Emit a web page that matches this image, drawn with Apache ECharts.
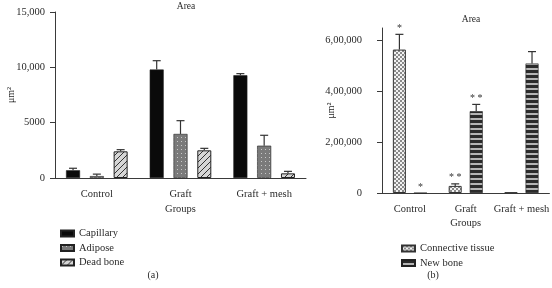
<!DOCTYPE html>
<html lang="en">
<head>
    <meta charset="UTF-8">
    <title>Area</title>
    <script type="text/javascript" src="https://cdn.jsdelivr.net/npm/echarts@6/dist/echarts.min.js"></script>
    <style>
        html, body { margin: 0; padding: 0; background: #fff; }
        #chart { width: 552px; height: 288px; }
    </style>
</head>
<body>
<div id="chart"></div>
<script>
    // 数据
    var categories = ['Control', 'Graft', 'Graft + mesh'];

    var capillary = [700, 9800, 9280];
    var capillaryErr = [180, 800, 150];
    var adipose = [170, 3980, 2920];
    var adiposeErr = [180, 1200, 940];
    var deadBone = [2410, 2500, 420];
    var deadBoneErr = [150, 180, 180];

    var connective = [565000, 28000, 2000];
    var connectiveErr = [60000, 8000, 0];
    var newBone = [0, 322000, 510000];
    var newBoneErr = [0, 27000, 47000];
    var connectiveSig = ['*', '* *', ''];
    var newBoneSig = ['*', '* *', ''];

    var leftTicks = [0, 5000, 10000, 15000];
    var leftTickLabels = ['0', '5000', '10,000', '15,000'];
    var rightTicks = [0, 200000, 400000, 600000];
    var rightTickLabels = ['0', '2,00,000', '4,00,000', '6,00,000'];

    var FONT = 'Liberation Serif';
    var TEXT = '#2a2a2a';
    var AXIS = '#3a3a3a';

    // 图案填充
    function pattern(w, h, draw) {
        var c = document.createElement('canvas');
        c.width = w; c.height = h;
        draw(c.getContext('2d'));
        return {image: c, repeat: 'repeat'};
    }
    var dotFill = pattern(4, 4, function (g) {
        g.fillStyle = '#7a7a7a'; g.fillRect(0, 0, 4, 4);
        g.fillStyle = '#c8c8c8'; g.fillRect(1, 1, 1, 1);
    });
    var hatchFill = pattern(6, 6, function (g) {
        g.fillStyle = '#d6d6d6'; g.fillRect(0, 0, 6, 6);
        g.strokeStyle = '#333'; g.lineWidth = 1;
        g.beginPath();
        g.moveTo(-1, 7); g.lineTo(7, -1);
        g.moveTo(-1, 1); g.lineTo(1, -1);
        g.moveTo(5, 7); g.lineTo(7, 5);
        g.stroke();
    });
    var checkFill = pattern(4, 4, function (g) {
        g.fillStyle = '#f2f2f2'; g.fillRect(0, 0, 4, 4);
        g.fillStyle = '#8a8a8a'; g.fillRect(0, 0, 2, 2); g.fillRect(2, 2, 2, 2);
    });
    var stripeFill = pattern(4, 5, function (g) {
        g.fillStyle = '#2b2b2b'; g.fillRect(0, 0, 4, 5);
        g.fillStyle = '#b5b5b5'; g.fillRect(0, 3, 4, 2);
    });

    // 误差线
    function errorSeries(name, vals, errs, sigs, offset, axisIdx) {
        var data = [];
        for (var i = 0; i < vals.length; i++) {
            data.push([i, vals[i], vals[i] + errs[i]]);
        }
        return {
            type: 'custom',
            name: name + ' err',
            xAxisIndex: axisIdx,
            yAxisIndex: axisIdx,
            z: 5,
            silent: true,
            data: data,
            renderItem: function (params, api) {
                var lo = api.coord([api.value(0), api.value(1)]);
                var hi = api.coord([api.value(0), api.value(2)]);
                var x = lo[0] + offset;
                var children = [];
                if (hi[1] < lo[1] - 0.5) {
                    children.push({type: 'line', shape: {x1: x, y1: lo[1], x2: x, y2: hi[1]},
                        style: {stroke: '#333', lineWidth: 1.2}});
                    children.push({type: 'line', shape: {x1: x - 4, y1: hi[1], x2: x + 4, y2: hi[1]},
                        style: {stroke: '#333', lineWidth: 1.2}});
                }
                var s = sigs ? sigs[params.dataIndex] : '';
                if (s) {
                    children.push({type: 'text', x: x, y: hi[1] - 1,
                        style: {text: s, fill: '#333', font: '10px ' + FONT, align: 'center', verticalAlign: 'bottom'}});
                }
                return {type: 'group', children: children};
            }
        };
    }

    function barSeries(name, vals, fill, axisIdx, width, border) {
        return {
            type: 'bar',
            name: name,
            xAxisIndex: axisIdx,
            yAxisIndex: axisIdx,
            barWidth: width,
            barGap: axisIdx === 0 ? '70%' : '62%',
            data: vals,
            itemStyle: {color: fill, borderColor: border || '#222', borderWidth: border ? 1 : 0.6}
        };
    }

    function yAxisCfg(idx, ticks, labels, max, margin, nameGap) {
        return {
            type: 'value',
            gridIndex: idx,
            min: 0,
            max: max,
            name: 'μm²',
            nameLocation: 'middle',
            nameRotate: 90,
            nameGap: nameGap,
            nameMoveOverlap: false,
            nameTextStyle: {fontFamily: FONT, fontSize: 10, color: TEXT},
            axisLine: {show: true, lineStyle: {color: AXIS, width: 1}},
            axisTick: {show: true, length: 5, lineStyle: {color: AXIS}, customValues: ticks},
            splitLine: {show: false},
            axisLabel: {
                customValues: ticks,
                margin: margin,
                fontFamily: FONT, fontSize: 10.5, color: TEXT,
                formatter: function (v) {
                    var k = ticks.indexOf(v);
                    return k >= 0 ? labels[k] : '';
                }
            }
        };
    }

    function xAxisCfg(idx, nameGap) {
        return {
            type: 'category',
            gridIndex: idx,
            data: categories,
            name: 'Groups',
            nameLocation: 'middle',
            nameGap: nameGap,
            nameMoveOverlap: false,
            nameTextStyle: {fontFamily: FONT, fontSize: 10.5, color: TEXT},
            axisLine: {lineStyle: {color: AXIS, width: 1}},
            axisTick: {alignWithLabel: true, length: 5, lineStyle: {color: AXIS}},
            axisLabel: {margin: 11, fontFamily: FONT, fontSize: 10.5, color: TEXT, interval: 0}
        };
    }

    var chart = echarts.init(document.getElementById('chart'), null, {renderer: 'canvas'});
    var option = {
        animation: false,
        backgroundColor: '#fff',
        title: [
            {text: 'Area', left: 181, top: -4, textAlign: 'center',
                textStyle: {fontFamily: FONT, fontSize: 9.5, fontWeight: 'normal', color: TEXT}},
            {text: 'Area', left: 466, top: 9, textAlign: 'center',
                textStyle: {fontFamily: FONT, fontSize: 9.5, fontWeight: 'normal', color: TEXT}},
            {text: '(a)', left: 148, top: 265, textAlign: 'center',
                textStyle: {fontFamily: FONT, fontSize: 10, fontWeight: 'normal', color: TEXT}},
            {text: '(b)', left: 428, top: 265, textAlign: 'center',
                textStyle: {fontFamily: FONT, fontSize: 10, fontWeight: 'normal', color: TEXT}}
        ],
        legend: [
            {
                orient: 'vertical', left: 55, top: 223, itemWidth: 13, itemHeight: 6, itemGap: 3.5,
                icon: 'rect',
                data: ['Capillary', 'Adipose', 'Dead bone'],
                textStyle: {fontFamily: FONT, fontSize: 10.5, color: TEXT}
            },
            {
                orient: 'vertical', left: 396, top: 238, itemWidth: 13, itemHeight: 6, itemGap: 3.5,
                icon: 'rect',
                data: ['Connective tissue', 'New bone'],
                textStyle: {fontFamily: FONT, fontSize: 10.5, color: TEXT}
            }
        ],
        grid: [
            {left: 55, top: 12, right: 246, bottom: 110},
            {left: 382, top: 28, right: 1, bottom: 95}
        ],
        xAxis: [xAxisCfg(0, 26), xAxisCfg(1, 25)],
        yAxis: [
            yAxisCfg(0, leftTicks, leftTickLabels, 15000, 10, 39),
            yAxisCfg(1, rightTicks, rightTickLabels, 650000, 20, 46)
        ],
        series: [
            barSeries('Capillary', capillary, '#0a0a0a', 0, 14),
            barSeries('Adipose', adipose, dotFill, 0, 14),
            barSeries('Dead bone', deadBone, hatchFill, 0, 14, '#222'),
            errorSeries('Capillary', capillary, capillaryErr, null, -23.8, 0),
            errorSeries('Adipose', adipose, adiposeErr, null, 0, 0),
            errorSeries('Dead bone', deadBone, deadBoneErr, null, 23.8, 0),
            barSeries('Connective tissue', connective, checkFill, 1, 13, '#333'),
            barSeries('New bone', newBone, stripeFill, 1, 13),
            errorSeries('Connective tissue', connective, connectiveErr, connectiveSig, -10.5, 1),
            errorSeries('New bone', newBone, newBoneErr, newBoneSig, 10.5, 1)
        ]
    };
    chart.setOption(option);
</script>
</body>
</html>
